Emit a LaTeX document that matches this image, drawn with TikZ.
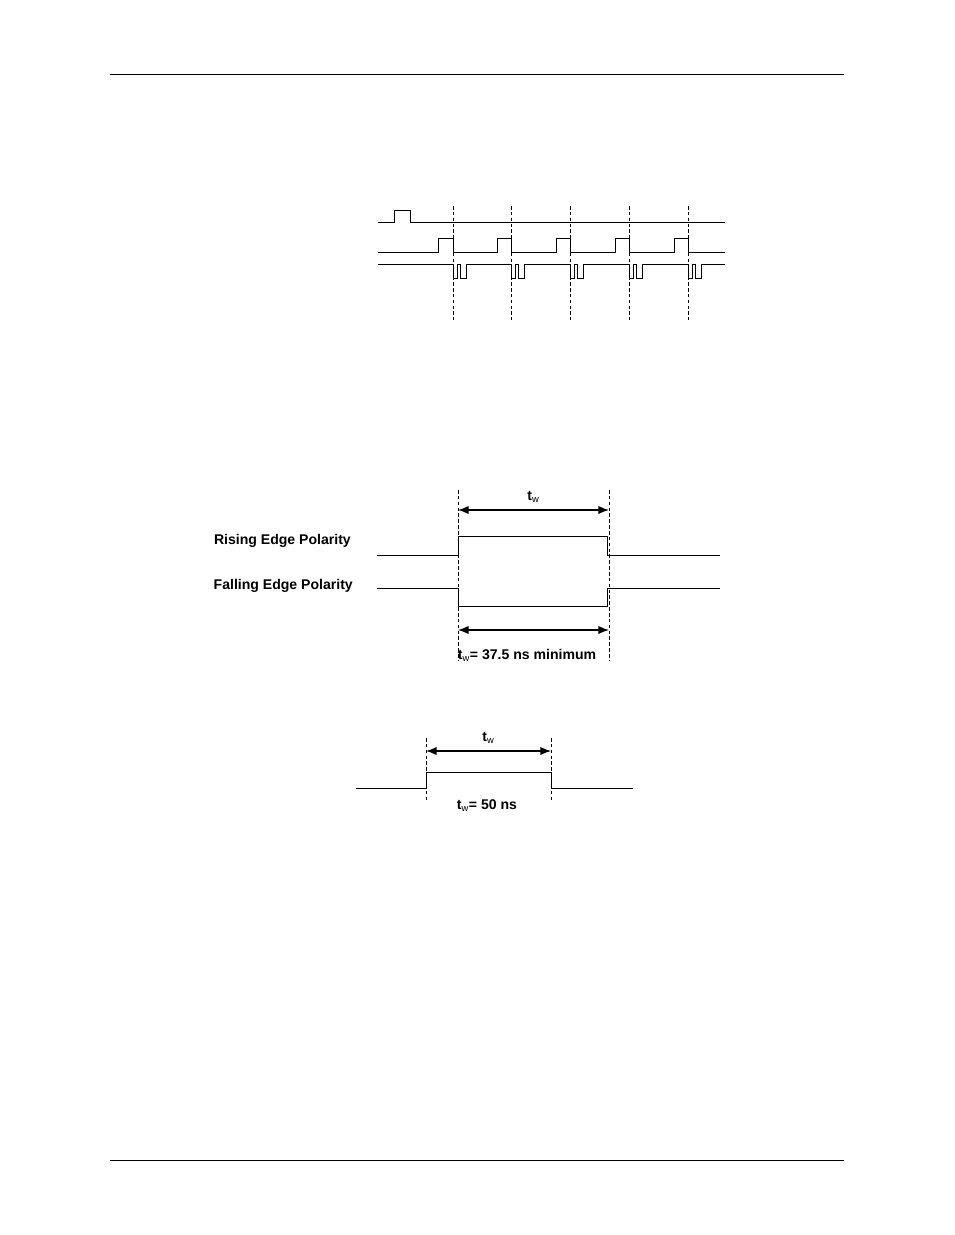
\documentclass[tikz,border=0pt]{standalone}
\usepackage{fontspec}
\setmainfont{Liberation Sans}
\usetikzlibrary{arrows.meta,positioning}

\begin{document}
\begin{tikzpicture}[x=0.03cm, y=-0.03cm,
    wave/.style={line width=0.7pt},
    guide/.style={dashed, line width=0.6pt, dash pattern=on 3pt off 2pt},
    dim/.style={{Latex[length=9pt,width=7pt]}-{Latex[length=9pt,width=7pt]}, line width=1pt},
    lbl/.style={font=\bfseries\fontsize{12}{14}\selectfont, inner sep=0pt}
]
\useasboundingbox (0,0) rectangle (954,1235);

% page rules
\draw[line width=0.6pt] (110,74) -- (844,74);
\draw[line width=0.6pt] (110,1160) -- (844,1160);

% TRIGGER TIMING
\draw[wave] (378,222) -- (394,222) -- (394,210) -- (410,210) -- (410,222) -- (725,222);
\draw[wave] (378,252) -- (438,252) -- (438,238) -- (453,238) -- (453,252)
  -- (497,252) -- (497,238) -- (511,238) -- (511,252)
  -- (556,252) -- (556,238) -- (570,238) -- (570,252)
  -- (615,252) -- (615,238) -- (629,238) -- (629,252)
  -- (674,252) -- (674,238) -- (688,238) -- (688,252) -- (725,252);
\draw[wave] (378,264)
  \foreach \t in {453,511,570,629,688} {
    -- (\t,264) -- (\t,278) -- (\t+4,278) -- (\t+4,264) -- (\t+7,264)
    -- (\t+7,278) -- (\t+13,278) -- (\t+13,264)
  } -- (725,264);
\foreach \t in {453,511,570,629,688}
  \draw[guide] (\t,206) -- (\t,320);

% PULSE POLARITY
\node[lbl, anchor=east] (rise) at (351,541) {Rising Edge Polarity};
\node[lbl, anchor=east] (fall) at (353,586) {Falling Edge Polarity};
\draw[wave] (377,555) -- (458,555) -- (458,536) -- (607,536) -- (607,555) -- (720,555);
\draw[wave] (377,588) -- (458,588) -- (458,606) -- (607,606) -- (607,588) -- (720,588);
\coordinate (pa) at (458,490);
\coordinate (pb) at (609,490);
\draw[guide] (pa) -- ++(0,170);
\draw[guide] (pb) -- ++(0,170);
\draw[dim] (458,510) -- (609,510) node[midway, above=6pt, lbl] {t\textsubscript{\normalfont w}};
\draw[dim] (458,630) -- (609,630);
\node[lbl] (twmin) at (527,655) {t\textsubscript{\normalfont w}= 37.5 ns minimum};

% OUTPUT PULSE
\draw[wave] (356,788) -- (426,788) -- (426,772) -- (551,772) -- (551,788) -- (633,788);
\coordinate (qa) at (426,738);
\coordinate (qb) at (551,738);
\draw[guide] (qa) -- ++(0,62);
\draw[guide] (qb) -- ++(0,62);
\draw[dim] (426,751) -- (551,751) node[midway, above=6pt, lbl] {t\textsubscript{\normalfont w}};
\node[lbl] (tw50) at (487,806) {t\textsubscript{\normalfont w}= 50 ns};
\end{tikzpicture}
\end{document}
